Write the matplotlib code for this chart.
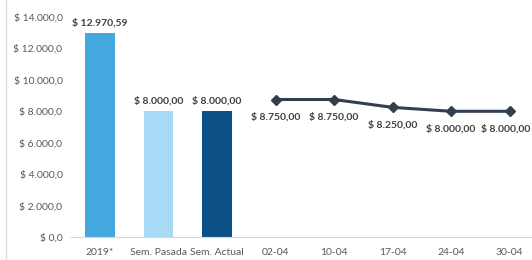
import matplotlib
matplotlib.use("Agg")
import matplotlib.pyplot as plt
from matplotlib.lines import Line2D

# ── Data ──────────────────────────────────────────────────────────────────────
bar_labels = ["2019*", "Sem. Pasada", "Sem. Actual"]
bar_values = [12970.59, 8000.00, 8000.00]
bar_colors = ["#44A9DE", "#A7DBF5", "#0C5088"]

line_labels = ["02-04", "10-04", "17-04", "24-04", "30-04"]
line_values = [8750.00, 8750.00, 8250.00, 8000.00, 8000.00]

y_ticks = [0, 2000, 4000, 6000, 8000, 10000, 12000, 14000]

TXT_DARK = "#404040"
TXT_GRAY = "#595959"
plt.rcParams["font.family"] = ["Lato", "DejaVu Sans"]


def es_money(v, dec):
    """Spanish style: thousands '.', decimals ','."""
    s = f"{v:,.{dec}f}"
    s = s.replace(",", "#").replace(".", ",").replace("#", ".")
    return f"$ {s}"


fig = plt.figure(figsize=(5.32, 2.60), dpi=100)
W, H = 532, 260
left_px, bottom_px, top_px = 70.75, 237, 17
ax = fig.add_axes([left_px / W, (H - bottom_px) / H,
                   (W - left_px) / W, (bottom_px - top_px) / H])

n_bar = len(bar_values)
x_bar = list(range(n_bar))
x_line = list(range(n_bar, n_bar + len(line_values)))

ax.bar(x_bar, bar_values, width=0.5, color=bar_colors, zorder=2)
for x, v in zip(x_bar, bar_values):
    ax.annotate(es_money(v, 2), (x, v), xytext=(0, 4), textcoords="offset points",
                ha="center", va="bottom", fontsize=7.5, fontweight="bold", color=TXT_DARK)

ax.plot(x_line, line_values, color="#333F4F", lw=2.2, marker="D", ms=5.5,
        zorder=3)
for i, (x, v) in enumerate(zip(x_line, line_values)):
    # last label sits right at the figure edge; nudge it inward a touch
    dx = -3 if i == len(line_values) - 1 else 0
    ax.annotate(es_money(v, 2), (x, v), xytext=(dx, -9), textcoords="offset points",
                ha="center", va="top", fontsize=7.5, fontweight="bold", color=TXT_DARK)

ax.set_xlim(-0.5, (W - 100) / 58.5)
ax.set_ylim(0, 14000)
ax.set_xticks(x_bar + x_line)
ax.set_xticklabels(bar_labels + line_labels, fontsize=7.5, color=TXT_GRAY)
ax.set_yticks(y_ticks)
ax.set_yticklabels([es_money(t, 1) for t in y_ticks], fontsize=7.5, color=TXT_GRAY)
ax.tick_params(length=0, pad=6)
ax.tick_params(axis="x", pad=8)

for side in ["top", "right", "left"]:
    ax.spines[side].set_visible(False)
ax.spines["bottom"].set_color("#D9D9D9")
ax.spines["bottom"].set_linewidth(0.8)

# faint frame edge on the left, as in the source screenshot
fig.add_artist(Line2D([6 / W, 6 / W], [0, 1], color="#DDDDDD", lw=1))

fig.savefig("out.png", dpi=100)
